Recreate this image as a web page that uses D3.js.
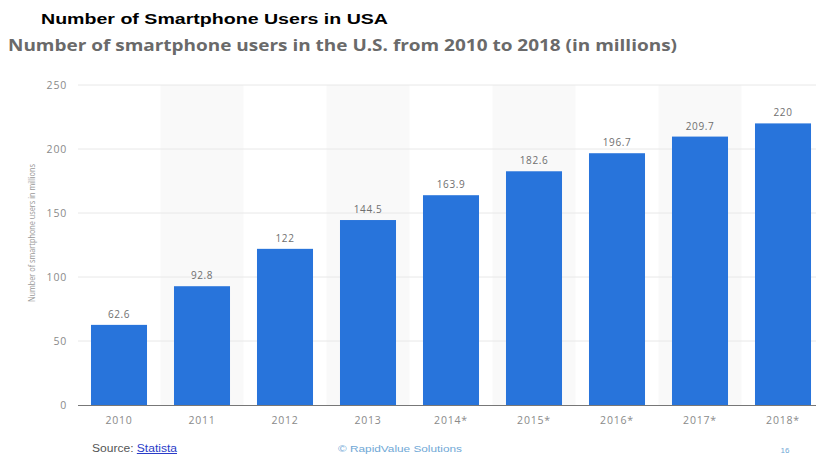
<!DOCTYPE html>
<html><head><meta charset="utf-8">
<script src="https://cdnjs.cloudflare.com/ajax/libs/d3/7.8.5/d3.min.js"></script>
<style>body{margin:0;background:#fff;}svg{display:block;}</style>
</head><body>
<svg id="c" width="816" height="454"></svg>
<script>
const categories = ["2010","2011","2012","2013","2014*","2015*","2016*","2017*","2018*"];
const values = [62.6, 92.8, 122, 144.5, 163.9, 182.6, 196.7, 209.7, 220];
const valueLabels = ["62.6","92.8","122","144.5","163.9","182.6","196.7","209.7","220"];
const yTicks = [0, 50, 100, 150, 200, 250];

const svg = d3.select("#c");
const x = d3.scaleBand().domain(categories).range([77.5, 824.5]).paddingInner(0.325).paddingOuter(0.1625);
const y = d3.scaleLinear().domain([0, 250]).range([405, 85]);
const step = x.step();

// alternating shading
svg.append("g").selectAll("rect").data(categories.filter((d,i)=>i%2===1)).join("rect")
  .attr("x", d => x(d) - (step - x.bandwidth())/2)
  .attr("width", step).attr("y", y(250)).attr("height", y(0)-y(250)).attr("fill", "#f9f9f9");

// grid
svg.append("g").selectAll("line").data(yTicks.filter(d=>d>0)).join("line")
  .attr("x1", 78).attr("x2", 816).attr("y1", d=>y(d)).attr("y2", d=>y(d))
  .attr("stroke", "#e8e8e8").attr("stroke-width", 1);

// y tick labels
svg.append("g").selectAll("text").data(yTicks).join("text")
  .attr("x", 67).attr("y", d=>y(d)+4).attr("text-anchor","end")
  .attr("font-family","Open Sans, sans-serif").attr("font-size",10.5).attr("fill","#8a8a8a")
  .attr("letter-spacing","0.8").text(d=>d);

// bars
svg.append("g").selectAll("rect").data(categories).join("rect")
  .attr("x", d=>x(d)).attr("width", x.bandwidth())
  .attr("y", (d,i)=>y(values[i])).attr("height", (d,i)=>y(0)-y(values[i]))
  .attr("fill", "#2874db");

// value labels
svg.append("g").selectAll("text").data(categories).join("text")
  .attr("x", d=>x(d)+x.bandwidth()/2).attr("y", (d,i)=>y(values[i])-7).attr("text-anchor","middle")
  .attr("font-family","Open Sans, sans-serif").attr("font-size",10).attr("fill","#6f6f6f")
  .attr("letter-spacing","0.6").text((d,i)=>valueLabels[i]);

// baseline
svg.append("line").attr("x1",78).attr("x2",816).attr("y1",y(0)+0.5).attr("y2",y(0)+0.5)
  .attr("stroke","#777").attr("stroke-width",1.2);

// x labels
svg.append("g").selectAll("text").data(categories).join("text")
  .attr("x", d=>x(d)+x.bandwidth()/2).attr("y", 424).attr("text-anchor","middle")
  .attr("font-family","Open Sans, sans-serif").attr("font-size",10.5).attr("fill","#8a8a8a")
  .attr("letter-spacing","0.8").text(d=>d);

// y axis title
svg.append("text").attr("transform","translate(35,233) rotate(-90)").attr("text-anchor","middle")
  .attr("font-family","Open Sans, sans-serif").attr("font-size",8.5).attr("fill","#999")
  .attr("textLength",138).attr("lengthAdjust","spacingAndGlyphs")
  .text("Number of smartphone users in millions");

// titles
svg.append("text").attr("x",41).attr("y",24).attr("font-family","Liberation Sans, Arial, sans-serif")
  .attr("font-weight","bold").attr("font-size",14.5).attr("fill","#000")
  .attr("textLength",347).attr("lengthAdjust","spacingAndGlyphs")
  .text("Number of Smartphone Users in USA");
svg.append("text").attr("x",8).attr("y",51).attr("font-family","Open Sans, sans-serif")
  .attr("font-weight","bold").attr("font-size",15.5).attr("fill","#6a6a6a")
  .attr("textLength",669).attr("lengthAdjust","spacingAndGlyphs")
  .text("Number of smartphone users in the U.S. from 2010 to 2018 (in millions)");

// footer
const src = svg.append("text").attr("x",92).attr("y",452).attr("font-family","Liberation Sans, Arial, sans-serif")
  .attr("font-size",10).attr("fill","#555").attr("textLength",85).attr("lengthAdjust","spacingAndGlyphs");
src.append("tspan").text("Source: ");
src.append("tspan").attr("fill","#2a3cc8").attr("text-decoration","underline").text("Statista");
svg.append("text").attr("x",338).attr("y",452).attr("font-family","Liberation Sans, Arial, sans-serif")
  .attr("font-size",9).attr("fill","#6fa8d6").attr("textLength",124).attr("lengthAdjust","spacingAndGlyphs")
  .text("© RapidValue Solutions");
svg.append("text").attr("x",785).attr("y",453).attr("font-family","Liberation Sans, Arial, sans-serif")
  .attr("font-size",8).attr("fill","#6fa8d6").attr("text-anchor","middle").text("16");
</script>
</body></html>
